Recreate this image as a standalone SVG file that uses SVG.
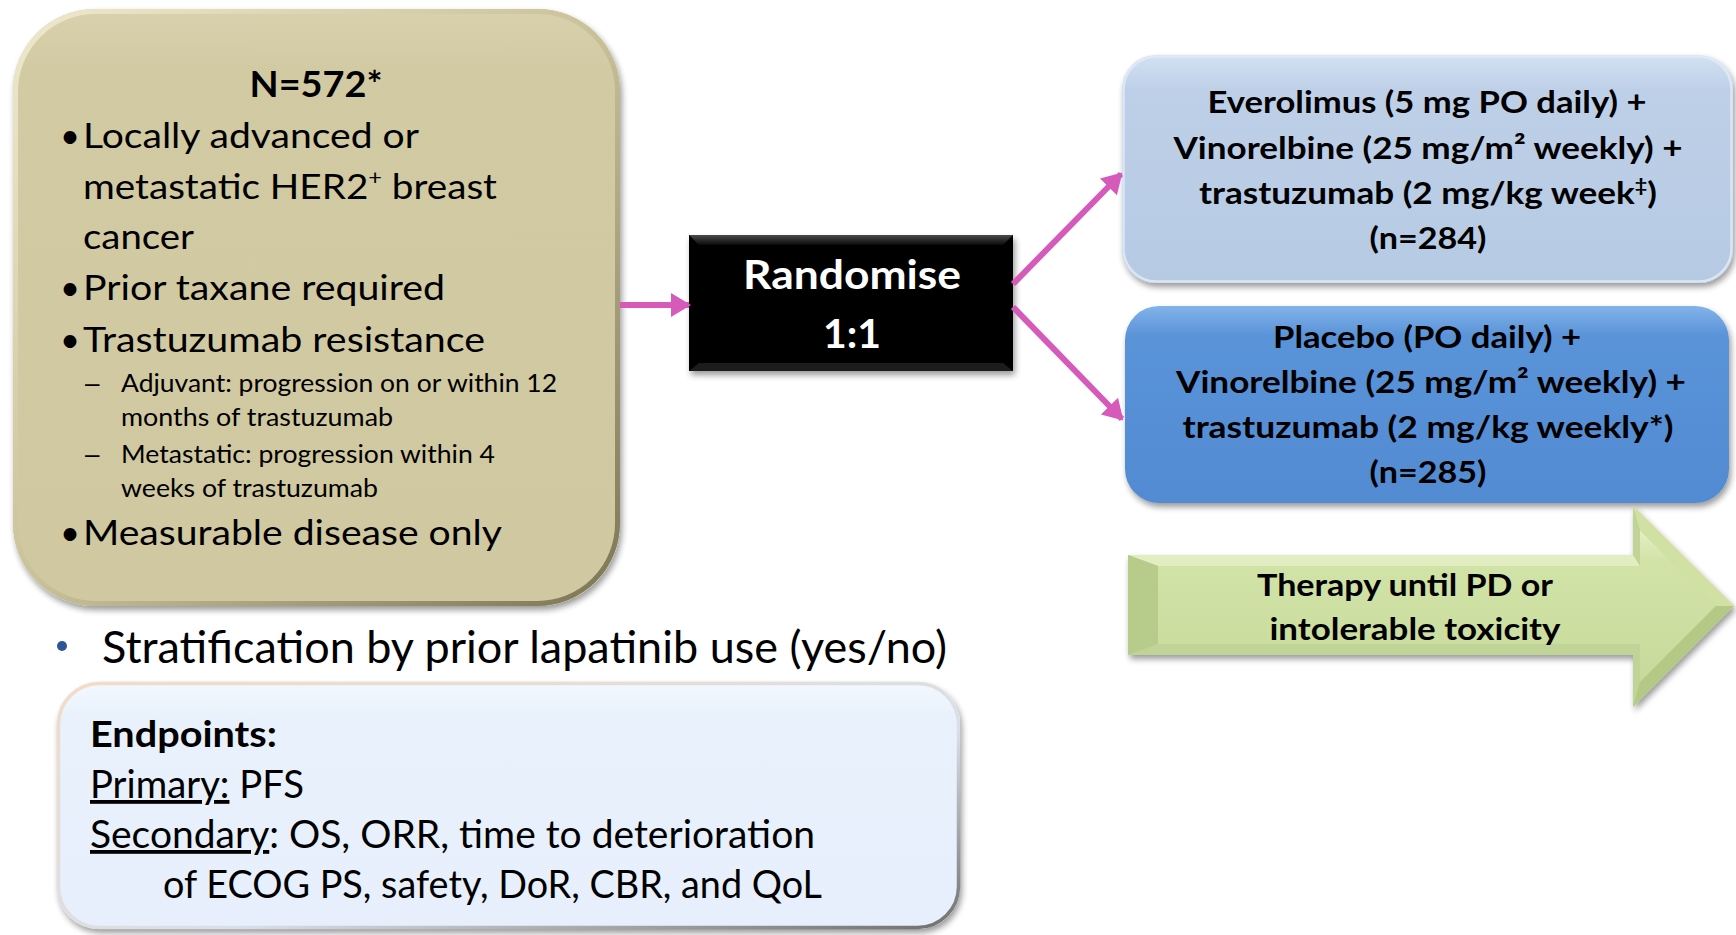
<svg xmlns="http://www.w3.org/2000/svg" width="1736" height="935" viewBox="0 0 1736 935">
<style>
.t{font-family:Lato,"Liberation Sans",sans-serif;fill:#000}
.b{font-weight:bold}
.m{font-size:34.5px}
.s{font-size:25px}
.d{font-family:"Liberation Sans",sans-serif;font-size:26px;fill:#000}
.bx{font-family:Lato,"Liberation Sans",sans-serif;font-size:31px;font-weight:bold;text-anchor:middle;fill:#000}
.conn{stroke:#d55ab9;stroke-width:6;fill:none}
</style>
<defs>
<filter id="sh" x="-10%" y="-10%" width="125%" height="130%">
<feGaussianBlur in="SourceAlpha" stdDeviation="3"/>
<feOffset dx="2" dy="4"/>
<feComponentTransfer><feFuncA type="linear" slope="0.4"/></feComponentTransfer>
<feMerge><feMergeNode/><feMergeNode in="SourceGraphic"/></feMerge>
</filter>
<linearGradient id="tanG" x1="0" y1="0" x2="0" y2="1">
<stop offset="0" stop-color="#d8d1ad"/><stop offset="0.1" stop-color="#d2caa3"/><stop offset="1" stop-color="#d0c8a0"/>
</linearGradient>
<linearGradient id="tanEdge" x1="0" y1="0" x2="1" y2="1">
<stop offset="0" stop-color="#efe9cd"/><stop offset="0.5" stop-color="#c9c199"/><stop offset="1" stop-color="#7c7656"/>
</linearGradient>
<linearGradient id="lbG" x1="0" y1="0" x2="0" y2="1">
<stop offset="0" stop-color="#d3e1f2"/><stop offset="0.15" stop-color="#bed0e8"/><stop offset="1" stop-color="#b6cae3"/>
</linearGradient>
<linearGradient id="dbG" x1="0" y1="0" x2="0" y2="1">
<stop offset="0" stop-color="#82b3ea"/><stop offset="0.15" stop-color="#5a93d8"/><stop offset="1" stop-color="#528bd2"/>
</linearGradient>
<linearGradient id="epG" x1="0" y1="0" x2="0" y2="1">
<stop offset="0" stop-color="#f3f8fe"/><stop offset="0.15" stop-color="#e8f1fc"/><stop offset="1" stop-color="#e6effb"/>
</linearGradient>
<linearGradient id="epEdge" x1="0" y1="0" x2="1" y2="1">
<stop offset="0" stop-color="#f1dcc6"/><stop offset="0.6" stop-color="#d9dfe8"/><stop offset="1" stop-color="#6f6f6f"/>
</linearGradient>
<linearGradient id="grG" x1="0" y1="0" x2="0" y2="1">
<stop offset="0" stop-color="#e4efc4"/><stop offset="0.2" stop-color="#d2e3a7"/><stop offset="1" stop-color="#c7da9b"/>
</linearGradient>
<linearGradient id="rndG" x1="0" y1="0" x2="0" y2="1">
<stop offset="0" stop-color="#4a4a4a"/><stop offset="1" stop-color="#0a0a0a"/>
</linearGradient>
<marker id="ah" viewBox="0 0 20 24" refX="18" refY="12" markerWidth="20" markerHeight="24" markerUnits="userSpaceOnUse" orient="auto">
<path d="M0,0 L20,12 L0,24 z" fill="#d55ab9"/>
</marker>
</defs>

<g id="eligibility">
<rect x="13" y="9" width="607" height="597" rx="82" fill="url(#tanG)" filter="url(#sh)"/>
<rect x="15.5" y="11.5" width="602" height="592" rx="80" fill="none" stroke="url(#tanEdge)" stroke-width="5"/>
<text class="t b" x="316" y="97" font-size="37" text-anchor="middle" textLength="133" lengthAdjust="spacingAndGlyphs">N=572*</text>
<text class="t m" x="70" y="148" text-anchor="middle">•</text>
<text class="t m" x="83" y="148" textLength="336" lengthAdjust="spacingAndGlyphs">Locally advanced or</text>
<text class="t m" x="83" y="199" textLength="414" lengthAdjust="spacingAndGlyphs">metastatic HER2<tspan font-size="21" dy="-14">+</tspan><tspan dy="14"> breast</tspan></text>
<text class="t m" x="83" y="249" textLength="111" lengthAdjust="spacingAndGlyphs">cancer</text>
<text class="t m" x="70" y="300" text-anchor="middle">•</text>
<text class="t m" x="83" y="300" textLength="362" lengthAdjust="spacingAndGlyphs">Prior taxane required</text>
<text class="t m" x="70" y="352" text-anchor="middle">•</text>
<text class="t m" x="83" y="352" textLength="402" lengthAdjust="spacingAndGlyphs">Trastuzumab resistance</text>
<text class="d" x="85" y="392">–</text>
<text class="t s" x="121" y="392" textLength="436" lengthAdjust="spacingAndGlyphs">Adjuvant: progression on or within 12</text>
<text class="t s" x="121" y="426" textLength="272" lengthAdjust="spacingAndGlyphs">months of trastuzumab</text>
<text class="d" x="85" y="463">–</text>
<text class="t s" x="121" y="463" textLength="374" lengthAdjust="spacingAndGlyphs">Metastatic: progression within 4</text>
<text class="t s" x="121" y="497" textLength="257" lengthAdjust="spacingAndGlyphs">weeks of trastuzumab</text>
<text class="t m" x="70" y="545" text-anchor="middle">•</text>
<text class="t m" x="83" y="545" textLength="419" lengthAdjust="spacingAndGlyphs">Measurable disease only</text>
</g>

<g id="randomise">
<rect x="689" y="235" width="324" height="136" fill="#030303" filter="url(#sh)"/>
<polygon points="689,235 1013,235 1003,245 699,245" fill="url(#rndG)"/>
<polygon points="689,371 1013,371 1003,363 699,363" fill="#1c1c1c"/>
<text class="t b" x="852" y="289" font-size="41" text-anchor="middle" style="fill:#fff" textLength="218" lengthAdjust="spacingAndGlyphs">Randomise</text>
<text class="t b" x="852" y="348" font-size="41" text-anchor="middle" style="fill:#fff" textLength="58" lengthAdjust="spacingAndGlyphs">1:1</text>
</g>

<g id="arm-everolimus">
<rect x="1122" y="55" width="611" height="228" rx="34" fill="url(#lbG)" filter="url(#sh)"/>
<rect x="1123.5" y="56.5" width="608" height="225" rx="33" fill="none" stroke="#e3ecf7" stroke-width="2.5" opacity="0.8"/>
<text class="bx" x="1427" y="113" textLength="439" lengthAdjust="spacingAndGlyphs">Everolimus (5 mg PO daily) +</text>
<text class="bx" x="1428" y="159" textLength="509" lengthAdjust="spacingAndGlyphs">Vinorelbine (25 mg/m² weekly) +</text>
<text class="bx" x="1428" y="204" textLength="458" lengthAdjust="spacingAndGlyphs">trastuzumab (2 mg/kg week<tspan font-size="19" dy="-12">‡</tspan><tspan dy="12">)</tspan></text>
<text class="bx" x="1428" y="249" textLength="117" lengthAdjust="spacingAndGlyphs">(n=284)</text>
</g>

<g id="arm-placebo">
<rect x="1125" y="306" width="604" height="197" rx="34" fill="url(#dbG)" filter="url(#sh)"/>
<text class="bx" x="1427" y="348" textLength="308" lengthAdjust="spacingAndGlyphs">Placebo (PO daily) +</text>
<text class="bx" x="1431" y="393" textLength="510" lengthAdjust="spacingAndGlyphs">Vinorelbine (25 mg/m² weekly) +</text>
<text class="bx" x="1428" y="438" textLength="491" lengthAdjust="spacingAndGlyphs">trastuzumab (2 mg/kg weekly*)</text>
<text class="bx" x="1428" y="483" textLength="117" lengthAdjust="spacingAndGlyphs">(n=285)</text>
</g>

<g id="therapy">
<polygon points="1128,555 1633,555 1633,506 1734,606 1633,707 1633,655 1128,655" fill="#c0d497" filter="url(#sh)"/>
<polygon points="1158,566 1640,566 1640,530 1716,606 1640,682 1640,644 1158,644" fill="url(#grG)"/>
<polygon points="1128,555 1633,555 1640,566 1158,566" fill="#e2edc2"/>
<polygon points="1128,555 1158,566 1158,644 1128,655" fill="#b7cc8b"/>
<polygon points="1633,506 1734,606 1716,606 1640,530" fill="#d0e1a3"/>
<polygon points="1734,606 1633,707 1640,682 1716,606" fill="#b3c985"/>
<text class="bx" x="1405" y="596" font-size="32" textLength="296" lengthAdjust="spacingAndGlyphs">Therapy until PD or</text>
<text class="bx" x="1415" y="640" font-size="32" textLength="291" lengthAdjust="spacingAndGlyphs">intolerable toxicity</text>
</g>

<g id="stratification">
<circle cx="62" cy="646" r="5" fill="#2e5597"/>
<text class="t" x="102" y="663" font-size="44" textLength="845" lengthAdjust="spacingAndGlyphs">Stratification by prior lapatinib use (yes/no)</text>
</g>

<g id="endpoints">
<rect x="57" y="682" width="903" height="247" rx="42" fill="url(#epG)" filter="url(#sh)"/>
<rect x="58.5" y="683.5" width="900" height="244" rx="41" fill="none" stroke="url(#epEdge)" stroke-width="3.5"/>
<text class="t b" x="90" y="747" font-size="37" textLength="187" lengthAdjust="spacingAndGlyphs">Endpoints:</text>
<text class="t" x="90" y="798" font-size="38" textLength="214" lengthAdjust="spacingAndGlyphs"><tspan text-decoration="underline">Primary:</tspan> PFS</text>
<text class="t" x="90" y="848" font-size="38" textLength="725" lengthAdjust="spacingAndGlyphs"><tspan text-decoration="underline">Secondary</tspan>: OS, ORR, time to deterioration</text>
<text class="t" x="163" y="898" font-size="38" textLength="659" lengthAdjust="spacingAndGlyphs">of ECOG PS, safety, DoR, CBR, and QoL</text>
</g>

<g id="connectors">
<line class="conn" x1="620" y1="305" x2="689" y2="305" marker-end="url(#ah)"/>
<line class="conn" x1="1013" y1="284" x2="1121" y2="174" marker-end="url(#ah)"/>
<line class="conn" x1="1013" y1="307" x2="1122" y2="419" marker-end="url(#ah)"/>
</g>
</svg>
